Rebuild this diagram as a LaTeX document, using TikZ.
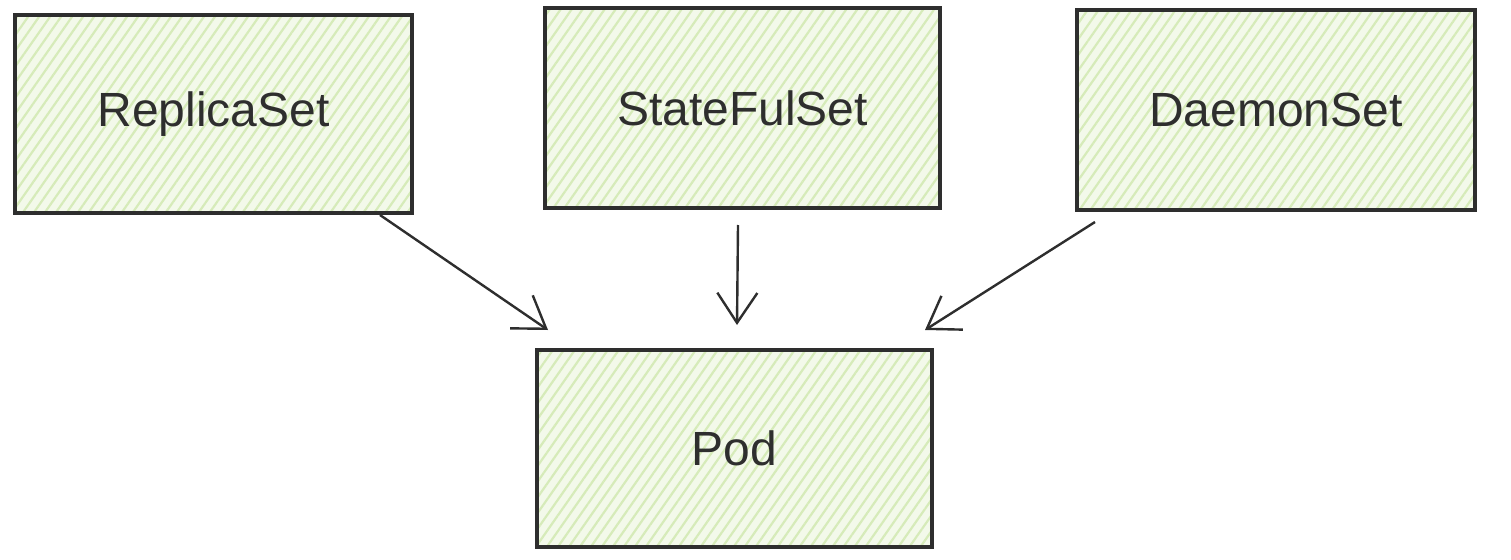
\documentclass[tikz,border=0pt]{standalone}
\usepackage{fontspec}
\setmainfont{Liberation Sans}
\usetikzlibrary{patterns.meta,arrows.meta}
\definecolor{boxfill}{HTML}{F3F9EA}
\definecolor{hatch}{HTML}{D6EBB9}
\definecolor{ink}{HTML}{2E2E2E}
\tikzset{
  sketchbox/.style={draw=ink, line width=3.2pt, inner sep=0pt, outer sep=0pt,
    preaction={fill=boxfill},
    pattern={Lines[angle=55, distance=9pt, line width=2.2pt]}, pattern color=hatch,
    font=\fontsize{48}{56}\selectfont, text=ink},
  link/.style={draw=ink, line width=2.4pt,
    -{Straight Barb[length=30pt, width=40pt, line width=2.4pt]}}
}
\begin{document}
\begin{tikzpicture}[x=1pt, y=-1pt]
\useasboundingbox (0,0) rectangle (1511,559);
\node[sketchbox, minimum width=397pt, minimum height=198pt] (rs) at (213.5,114) {ReplicaSet};
\node[sketchbox, minimum width=395pt, minimum height=200pt] (sfs) at (742.5,108) {StateFulSet};
\node[sketchbox, minimum width=398pt, minimum height=200pt] (ds) at (1276,110) {DaemonSet};
\node[sketchbox, minimum width=395pt, minimum height=197pt] (pod) at (734.5,448.5) {Pod};
\draw[link] ([xshift=-32pt,yshift=-2pt]rs.south east) -- ([xshift=11pt,yshift=20pt]pod.north west);
\draw[link] ([xshift=-4.5pt,yshift=-17pt]sfs.south) -- ([xshift=2.5pt,yshift=25pt]pod.north);
\draw[link] ([xshift=18pt,yshift=-12pt]ds.south west) -- ([xshift=-7pt,yshift=20pt]pod.north east);
\end{tikzpicture}
\end{document}
